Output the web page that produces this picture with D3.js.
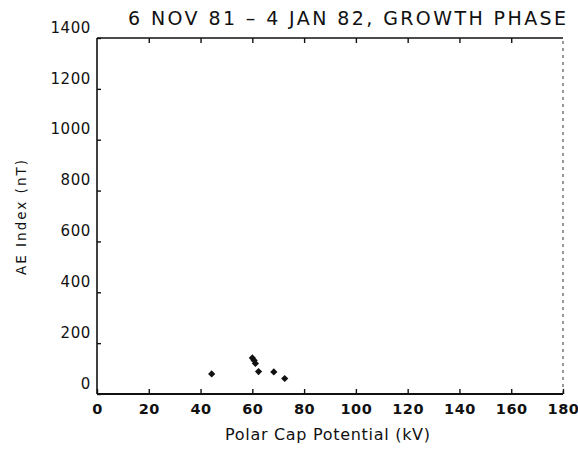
<!DOCTYPE html>
<html>
<head>
<meta charset="utf-8">
<script src="https://cdn.jsdelivr.net/npm/d3@7"></script>
<style>
  html, body { margin: 0; padding: 0; background: #fff; }
  svg text { font-family: "DejaVu Sans", "Liberation Sans", sans-serif; fill: #111; }
</style>
</head>
<body>
<svg id="chart" width="578" height="449"></svg>
<script>
// Polar cap potential (kV) vs AE index (nT), growth phase events
const potentialKV = [44.3, 60.0, 60.7, 61.2, 62.4, 68.3, 72.5];
const aeIndexNT   = [79, 142, 132, 120, 88, 87, 61];

const xTicks = [0, 20, 40, 60, 80, 100, 120, 140, 160, 180];
const yTicks = [0, 200, 400, 600, 800, 1000, 1200, 1400];

const titleText = "6 NOV 81  \u2013  4 JAN 82, GROWTH PHASE";
const xLabel = "Polar Cap Potential (kV)";
const yLabel = "AE Index (nT)";

const svg = d3.select("#chart");
const margin = { left: 97, right: 15, top: 38, bottom: 55 };
const W = 578, H = 449;

const x = d3.scaleLinear().domain([0, 180]).range([margin.left, W - margin.right]);
const y = d3.scaleLinear().domain([0, 1400]).range([H - margin.bottom, margin.top]);

const ink = "#111";

// frame: left, bottom, top solid; right side faint dashed
const g = svg.append("g");
g.append("line").attr("x1", x(0)).attr("x2", x(180)).attr("y1", y(0)).attr("y2", y(0))
  .attr("stroke", ink).attr("stroke-width", 2);
g.append("line").attr("x1", x(0)).attr("x2", x(0)).attr("y1", y(0)).attr("y2", y(1400))
  .attr("stroke", ink).attr("stroke-width", 1.6);
g.append("line").attr("x1", x(0)).attr("x2", x(180)).attr("y1", y(1400)).attr("y2", y(1400))
  .attr("stroke", ink).attr("stroke-width", 1.6);
g.append("line").attr("x1", x(180)).attr("x2", x(180)).attr("y1", y(0)).attr("y2", y(1400))
  .attr("stroke", "#333").attr("stroke-width", 1).attr("stroke-dasharray", "3,4");

// bottom axis: inward ticks and labels
const xAxis = d3.axisBottom(x).tickValues(xTicks).tickSize(-5).tickPadding(10).tickFormat(d3.format("d"));
const gx = svg.append("g").attr("transform", `translate(0,${y(0)})`).call(xAxis);
gx.select(".domain").remove();
gx.selectAll(".tick line").attr("stroke", ink).attr("stroke-width", 1.4);
gx.selectAll(".tick text").attr("font-size", 14.5).attr("font-weight", "bold")
  .attr("letter-spacing", 0.5).attr("fill", ink);

// top ticks pointing down
const xTop = d3.axisTop(x).tickValues(xTicks.slice(1, -1)).tickSize(-5).tickFormat("");
const gt = svg.append("g").attr("transform", `translate(0,${y(1400)})`).call(xTop);
gt.select(".domain").remove();
gt.selectAll(".tick line").attr("stroke", ink).attr("stroke-width", 1.4);

// left axis: inward ticks and labels, set slightly above each tick
const yAxis = d3.axisLeft(y).tickValues(yTicks).tickSize(-4).tickPadding(6).tickFormat(d3.format("d"));
const gy = svg.append("g").attr("transform", `translate(${x(0)},0)`).call(yAxis);
gy.select(".domain").remove();
gy.selectAll(".tick line").attr("stroke", ink).attr("stroke-width", 1.4);
gy.selectAll(".tick text").attr("font-size", 15).attr("letter-spacing", 0.6)
  .attr("fill", ink).attr("dy", "-0.05em").attr("y", -5);

// data points: small filled diamonds (rotated squares)
svg.append("g").selectAll("path")
  .data(potentialKV.map((v, i) => [v, aeIndexNT[i]]))
  .join("path")
  .attr("transform", d => `translate(${x(d[0])},${y(d[1])}) rotate(45)`)
  .attr("d", d3.symbol().type(d3.symbolSquare).size(26))
  .attr("fill", ink);

// title
svg.append("text").attr("x", 128).attr("y", 25)
  .attr("font-size", 19).attr("textLength", 438).attr("lengthAdjust", "spacing")
  .text(titleText);

// axis titles
svg.append("text").attr("x", 225).attr("y", 440)
  .attr("font-size", 16).attr("textLength", 205).attr("lengthAdjust", "spacing")
  .text(xLabel);
svg.append("text").attr("transform", "translate(26,275) rotate(-90)")
  .attr("font-size", 13.5).attr("textLength", 115).attr("lengthAdjust", "spacing")
  .text(yLabel);
</script>
</body>
</html>
